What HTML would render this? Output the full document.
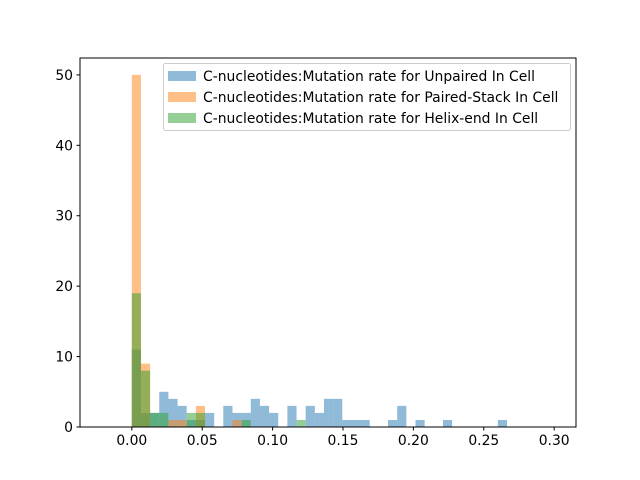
<!DOCTYPE html>
<html><head><meta charset="utf-8"><style>body{margin:0;background:#fff}svg{display:block;font-family:"DejaVu Sans","Liberation Sans",sans-serif}</style></head>
<body>
<svg id="chart" width="640" height="480"></svg>
<script>
const xTicks = [0.00, 0.05, 0.10, 0.15, 0.20, 0.25, 0.30];
const yTicks = [0, 10, 20, 30, 40, 50];
const binWidth = 0.0065;
const binStart = 0.0;
const unpairedCounts = [11,2,2,5,4,3,1,1,2,0,3,2,2,4,3,2,0,3,0,3,2,4,4,1,1,1,0,0,1,3,0,1,0,0,1,0,0,0,0,0,1];
const pairedCounts = [50,9,0,0,1,1,0,3,0,0,0,1];
const helixCounts = [19,8,2,2,0,0,2,2,0,0,0,0,1,0,0,0,0,0,1];
const seriesNames = ["C-nucleotides:Mutation rate for Unpaired In Cell","C-nucleotides:Mutation rate for Paired-Stack In Cell","C-nucleotides:Mutation rate for Helix-end In Cell"];
const seriesColors = ["#1f77b4","#ff7f0e","#2ca02c"];

const L=80,R=576,T=58,B=427;
const xMin=-0.0368,xMax=0.3155,yMin=0,yMax=52.4;
const sx=v=>L+(v-xMin)/(xMax-xMin)*(R-L);
const sy=v=>B-(v-yMin)/(yMax-yMin)*(B-T);
const svg=document.getElementById('chart');
const NS="http://www.w3.org/2000/svg";
function mk(tag,attrs,parent){const e=document.createElementNS(NS,tag);for(const k in attrs)e.setAttribute(k,attrs[k]);(parent||svg).appendChild(e);return e;}

[unpairedCounts,pairedCounts,helixCounts].forEach((counts,si)=>{
  const g=mk('g',{});
  
  
  counts.forEach((c,i)=>{
    if(c<=0)return;
    const x0=sx(binStart+i*binWidth),x1=sx(binStart+(i+1)*binWidth);
    const r=mk('rect',{x:x0,y:sy(c),width:x1-x0,height:sy(0)-sy(c),fill:seriesColors[si],'fill-opacity':0.5},g);
    
    
  });
});

const frame=mk('rect',{x:L,y:T,width:R-L,height:B-T,fill:'none',stroke:'#000','stroke-width':1});



xTicks.forEach(v=>{
  const x=sx(v);
  mk('line',{x1:x,x2:x,y1:B,y2:B+3.5,stroke:'#000'});
  const t=mk('text',{x:x,y:B+18,'text-anchor':'middle','font-size':13.9});
  t.textContent=v.toFixed(2);
  
  
});
yTicks.forEach(v=>{
  const y=sy(v);
  mk('line',{x1:L-3.5,x2:L,y1:y,y2:y,stroke:'#000'});
  const t=mk('text',{x:L-7,y:y+5,'text-anchor':'end','font-size':13.9});
  t.textContent=v;
  
  
});

const lg=mk('g',{});


mk('rect',{x:163.5,y:63.5,width:407,height:67,rx:2,fill:'#fff','fill-opacity':0.8,stroke:'#ccc'},lg);
seriesNames.forEach((n,i)=>{
  const y=71+i*21;
  mk('rect',{x:168,y:y,width:28,height:10,fill:seriesColors[i],'fill-opacity':0.5},lg);
  const t=mk('text',{x:203,y:y+10,'font-size':13.9},lg);
  t.textContent=n;
  
  
});
</script>
</body></html>
